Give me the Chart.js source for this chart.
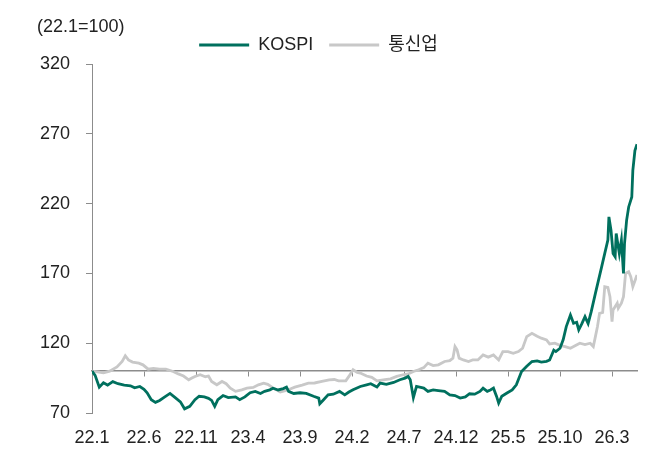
<!DOCTYPE html>
<html>
<head>
<meta charset="utf-8">
<script src="https://cdn.jsdelivr.net/npm/chart.js@4.4.1/dist/chart.umd.min.js"></script>
<style>
html,body{margin:0;padding:0;background:#fff;}
#wrap{width:657px;height:450px;position:relative;}
</style>
</head>
<body>
<div id="wrap"><canvas id="c" width="657" height="450"></canvas></div>
<script>
// ---- data ----
const unitLabel = '(22.1=100)';
const seriesNames = ['KOSPI', '통신업'];
const baseValue = 100;
const yTicks = [70, 120, 170, 220, 270, 320];
const tickMonths = [0, 5, 10, 15, 20, 25, 30, 35, 40, 45, 50];   // months since Jan 2022
const tickLabels = ['22.1', '22.6', '22.11', '23.4', '23.9', '24.2', '24.7', '24.12', '25.5', '25.10', '26.3'];

const kospiMonths = [
  0, 0.3, 0.7, 1.1, 1.5, 2.0, 2.5, 3.1, 3.7, 4.1,
  4.6, 5.0, 5.3, 5.7, 6.1, 6.5, 7.0, 7.5, 8.0, 8.5,
  8.9, 9.4, 9.9, 10.3, 10.8, 11.2, 11.5, 11.8, 12.1, 12.6,
  13.1, 13.8, 14.2, 14.7, 15.2, 15.7, 16.2, 16.6, 17.1, 17.4,
  17.9, 18.4, 18.7, 18.9, 19.4, 20.0, 20.6, 21.3, 21.8, 21.9,
  22.2, 22.7, 23.2, 23.8, 24.3, 24.7, 25.1, 25.8, 26.4, 26.8,
  27.4, 27.7, 28.3, 29.0, 29.6, 30.1, 30.4, 30.6, 30.9, 31.2,
  31.9, 32.3, 32.8, 33.3, 33.9, 34.4, 34.9, 35.4, 35.9, 36.3,
  36.8, 37.3, 37.6, 38.0, 38.3, 38.6, 38.9, 39.1, 39.4, 39.9,
  40.4, 40.8, 41.3, 41.8, 42.3, 42.8, 43.2, 43.7, 44.0, 44.4,
  44.6, 45.0, 45.3, 45.6, 46.0, 46.3, 46.6, 46.8, 47.1, 47.4,
  47.7, 48.0, 48.4, 48.7, 49.0, 49.3, 49.6, 49.7, 49.9, 50.1,
  50.3, 50.4, 50.7, 50.9, 51.1, 51.2, 51.4, 51.6, 51.9, 52.0,
  52.2, 52.4
];
const kospiValues = [
  100, 97, 88.5, 91.6, 90, 92.5, 91, 90, 89.5, 88,
  89, 87, 84.5, 79.5, 77.6, 79, 81.5, 84, 81, 78,
  73, 74.8, 79.5, 82, 81.5, 80.5, 79, 74.8, 79.5, 82.5,
  81, 81.5, 79.5, 81.5, 84.5, 85.5, 84, 85.5, 86.6, 87.8,
  86.5, 87.5, 88.6, 85.5, 84, 84.5, 84, 82, 80.7, 76.6,
  79, 83, 83.5, 85.5, 83, 85, 86.6, 89, 90.2, 91,
  88.6, 91.4, 90.5, 91.9, 93.8, 95, 96.2, 93.8, 81, 89,
  87.8, 85.5, 86.5, 86, 85.5, 83, 82.5, 80.7, 81.5, 83.8,
  83.5, 85.5, 87.8, 85.5, 86.5, 87.8, 81.9, 77.1, 82, 84.3,
  86.6, 90.2, 99.7, 103.5, 106.9, 107.3, 106.5, 107, 108, 115,
  114, 116.4, 122.4, 131.9, 140.2, 134.3, 135, 129.5, 134, 139,
  134, 142.6, 155.7, 165.2, 174.7, 184.3, 193.8, 210.5, 201, 184.3,
  181.9, 198.6, 184.3, 193.8, 170, 191.4, 208, 217.6, 224.7, 243.8,
  258, 262.5
];

const telecomMonths = [
  0, 0.5, 1.1, 1.7, 2.4, 2.9, 3.2, 3.5, 3.9, 4.5,
  4.9, 5.4, 5.9, 6.5, 7.1, 7.8, 8.3, 8.8, 9.3, 9.6,
  9.9, 10.4, 10.9, 11.2, 11.5, 12.0, 12.5, 12.9, 13.3, 13.8,
  14.4, 14.9, 15.5, 16.0, 16.5, 16.9, 17.4, 18.1, 18.6, 19.0,
  19.5, 20.2, 20.8, 21.4, 22.1, 22.8, 23.3, 23.7, 24.4, 24.7,
  25.1, 25.5, 25.8, 26.4, 26.9, 27.4, 28.0, 28.7, 29.3, 29.9,
  30.4, 30.9, 31.4, 31.9, 32.3, 32.8, 33.3, 33.9, 34.4, 34.7,
  34.9, 35.1, 35.3, 35.7, 36.2, 36.6, 37.1, 37.6, 38.1, 38.6,
  39.1, 39.5, 40.0, 40.5, 41.0, 41.4, 41.8, 42.3, 42.8, 43.2,
  43.7, 44.0, 44.5, 45.0, 45.5, 46.0, 46.4, 46.9, 47.4, 47.9,
  48.2, 48.4, 48.6, 48.8, 49.1, 49.3, 49.6, 49.8, 50.0, 50.1,
  50.5, 50.6, 50.9, 51.1, 51.3, 51.6, 51.8, 52.0, 52.4
];
const telecomValues = [
  100, 99.5, 98.8, 100, 103, 106.9, 111, 108, 106.5, 105.7,
  104.5, 101.4, 102, 101.4, 101.4, 99.7, 98, 96.5, 93.8, 95,
  96.2, 97.4, 96, 96.5, 92.6, 90.2, 92.6, 91, 87.8, 85.5,
  86.6, 87.8, 88.3, 90.2, 91.4, 90.5, 88, 85, 86, 87,
  88.5, 90, 91.4, 91.5, 92.6, 93.8, 94, 93, 93, 96.2,
  101, 99, 98.6, 96.5, 95.5, 93, 93.8, 94.5, 96.2, 97.4,
  98, 99.7, 101, 102.5, 105.7, 104, 104.5, 106.9, 107.5, 109.3,
  117.6, 115.2, 109.3, 108, 106.9, 108, 108, 111.6, 110, 111.6,
  108, 114, 114, 112.8, 114, 116.4, 124.7, 127.1, 125, 123.6,
  122.4, 119.5, 120, 118.5, 117.6, 116.4, 118, 120, 119, 120,
  117.6, 124.7, 131.9, 141.4, 142, 160.5, 160, 153.3, 135.4, 143.8,
  148.6, 145, 148.6, 153.3, 170, 171.2, 167.6, 160.5, 168.8
];

// ---- styling ----
const FONT = "'Liberation Sans', Arial, 'Noto Sans CJK KR', sans-serif";
const FS = 18;
const GREEN = '#00705E';
const GREY = '#C8C8C8';
const AXIS = '#8C8C8C';
const TEXT = '#222222';

Chart.defaults.font.family = FONT;
Chart.defaults.color = TEXT;

const xMax = kospiMonths[kospiMonths.length - 1];
const toPts = (xs, ys) => xs.map((x, i) => ({ x: x, y: ys[i] }));
const setTicks = (arr) => (scale) => { scale.ticks = arr.map(v => ({ value: v })); };

const unitLabelPlugin = {
  id: 'unitLabel',
  afterDraw(chart) {
    const ctx = chart.ctx;
    ctx.save();
    ctx.font = FS + 'px ' + FONT;
    ctx.fillStyle = TEXT;
    ctx.textAlign = 'left';
    ctx.textBaseline = 'middle';
    ctx.fillText(unitLabel, 37, 27);
    ctx.restore();
  }
};

new Chart(document.getElementById('c'), {
  type: 'line',
  data: {
    datasets: [
      {
        label: seriesNames[0],
        data: toPts(kospiMonths, kospiValues),
        borderColor: GREEN, backgroundColor: GREEN,
        borderWidth: 2.8, pointRadius: 0, tension: 0, order: 0
      },
      {
        label: seriesNames[1],
        data: toPts(telecomMonths, telecomValues),
        borderColor: GREY, backgroundColor: GREY,
        borderWidth: 2.8, pointRadius: 0, tension: 0, order: 1
      }
    ]
  },
  options: {
    responsive: false,
    animation: false,
    devicePixelRatio: 1,
    layout: { padding: { top: 20, right: 20, bottom: 0, left: 0 } },
    plugins: {
      tooltip: { enabled: false },
      legend: {
        display: true,
        position: 'top',
        align: 'center',
        labels: {
          boxWidth: 50, boxHeight: 3, padding: 16,
          font: { size: FS, family: FONT }, color: TEXT,
          generateLabels: (chart) => Chart.defaults.plugins.legend.labels.generateLabels(chart).map(l => Object.assign(l, { lineWidth: 0 }))
        }
      }
    },
    scales: {
      x: {
        type: 'linear', position: 'bottom', min: 0, max: xMax,
        afterBuildTicks: setTicks(tickMonths),
        afterFit: (s) => { s.height = 37; },
        grid: { display: false, drawTicks: false },
        border: { display: false },
        ticks: {
          autoSkip: false, maxRotation: 0, padding: 14,
          font: { size: FS }, color: TEXT,
          callback: (v) => { const i = tickMonths.indexOf(v); return i >= 0 ? tickLabels[i] : ''; }
        }
      },
      xBase: {
        type: 'linear', axis: 'x', position: { y: baseValue }, min: 0, max: xMax,
        afterBuildTicks: setTicks(tickMonths),
        grid: { drawOnChartArea: false, drawTicks: true, tickLength: 5, color: AXIS, lineWidth: 1 },
        border: { display: true, color: AXIS, width: 1.5 },
        ticks: { display: false }
      },
      y: {
        type: 'linear', position: 'left', min: 70, max: 320,
        afterBuildTicks: setTicks(yTicks),
        afterFit: (s) => { s.width = 92; },
        grid: { drawOnChartArea: false, drawTicks: true, tickLength: 6, color: AXIS, lineWidth: 1 },
        border: { display: true, color: AXIS, width: 1 },
        ticks: { padding: 16, font: { size: FS }, color: TEXT }
      }
    }
  },
  plugins: [unitLabelPlugin]
});
</script>
</body>
</html>
